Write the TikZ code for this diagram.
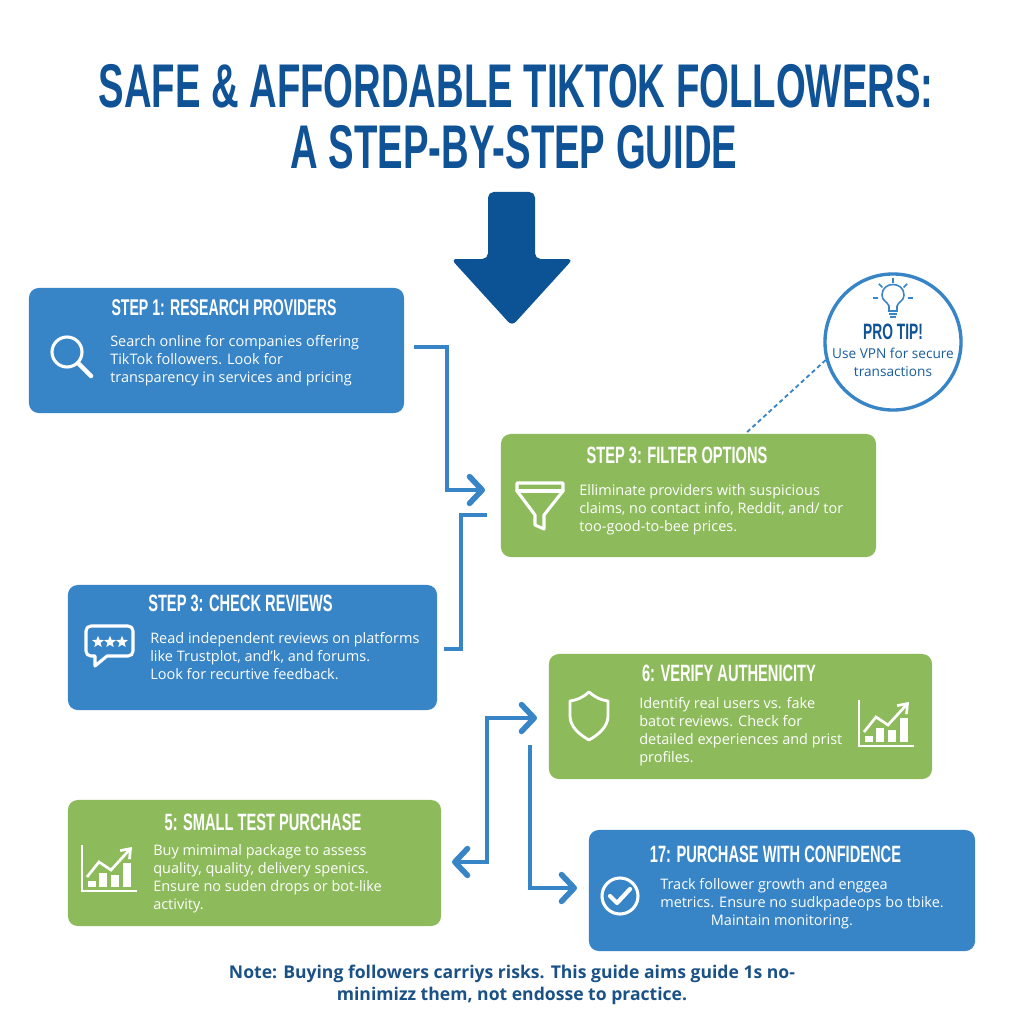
\documentclass[tikz,border=0pt]{standalone}
\usepackage{fontspec}
\setmainfont{Open Sans}
\newfontfamily\headfont[FakeStretch=0.62]{Liberation Sans}
\usetikzlibrary{arrows.meta,shapes.geometric}
\definecolor{stepblue}{HTML}{3784C7}
\definecolor{stepgreen}{HTML}{8DBB5C}
\definecolor{titleblue}{HTML}{105296}
\definecolor{arrowblue}{HTML}{0B5394}
\definecolor{noteblue}{HTML}{1A5288}
\tikzset{
	bluebox/.style={fill=stepblue, rounded corners=7pt, inner sep=0pt},
	greenbox/.style={fill=stepgreen, rounded corners=7pt, inner sep=0pt},
	heading/.style={text=white, font=\headfont\bfseries\fontsize{16.8}{18}\selectfont, inner sep=0pt},
	body/.style={text=white, anchor=west, align=left, inner sep=0pt, font=\fontsize{10.3}{12.8}\selectfont},
	titletext/.style={text=titleblue, font=\headfont\bfseries\fontsize{43.9}{48}\selectfont, inner sep=0pt},
	notetext/.style={text=noteblue, font=\bfseries\fontsize{12.5}{16}\selectfont, inner sep=0pt, align=center},
	link/.style={draw=stepblue, line width=2.4pt, line join=miter},
	tip/.tip={Straight Barb[length=9pt, width=19pt, line width=4pt, round]},
	icon/.style={draw=white, line width=2.2pt, line join=round, line cap=round}
}
\def\charticon(#1,#2){
	\draw[draw=white, line width=1.7pt] (#1, #2-46) -- (#1, #2) -- (#1+55, #2);
	\fill[white] (#1+6, #2-10) rectangle (#1+14, #2-4);
	\fill[white] (#1+17, #2-18) rectangle (#1+25, #2-4);
	\fill[white] (#1+29, #2-16) rectangle (#1+37, #2-4);
	\fill[white] (#1+41, #2-28) rectangle (#1+49, #2-4);
	\draw[draw=white, line width=1.9pt, -{Straight Barb[length=6pt, width=9pt, line width=1.9pt]}] (#1+5, #2-14) -- (#1+17, #2-29) -- (#1+29, #2-21) -- (#1+50, #2-44);
}
\begin{document}
\begin{tikzpicture}[x=0.025cm, y=-0.025cm]
		%%%%% START %%%%%
		\useasboundingbox (0, 0) rectangle (1024, 1024);
		\fill[white] (0, 0) rectangle (1024, 1024);
		
		\node[titletext] (title1) at (516, 86) {SAFE \& AFFORDABLE TIKTOK FOLLOWERS:};
		\node[titletext] (title2) at (514, 147) {A STEP-BY-STEP GUIDE};
		
		\fill[arrowblue, rounded corners=4pt]
			(488, 192) -- (535, 192) -- (535, 259) -- (573, 259) -- (512, 326) -- (451, 259) -- (488, 259) -- cycle;
		
		\node[bluebox, minimum width=9.375cm, minimum height=3.125cm] (research) at (216.5, 350.5) {};
		\node[bluebox, minimum width=9.225cm, minimum height=3.125cm] (reviews) at (252.5, 647.5) {};
		\node[greenbox, minimum width=9.375cm, minimum height=3.075cm] (filter) at (688.5, 495.5) {};
		\node[greenbox, minimum width=9.575cm, minimum height=3.125cm] (verify) at (740.5, 716.5) {};
		\node[greenbox, minimum width=9.325cm, minimum height=3.15cm] (test) at (254.5, 863) {};
		\node[bluebox, minimum width=9.65cm, minimum height=3.025cm] (confidence) at (782, 890.5) {};
		
		\node[heading, font=\headfont\bfseries\fontsize{16.2}{18}\selectfont] (researchhead) at (224, 308) {STEP 1: RESEARCH PROVIDERS};
		\node[heading] (reviewshead) at (240.5, 603) {STEP 3: CHECK REVIEWS};
		\node[heading] (filterhead) at (677, 455) {STEP 3: FILTER OPTIONS};
		\node[heading] (verifyhead) at (729, 673) {6: VERIFY AUTHENICITY};
		\node[heading] (testhead) at (263, 822) {5: SMALL TEST PURCHASE};
		\node[heading] (confidencehead) at (775.5, 854) {17: PURCHASE WITH CONFIDENCE};
		
		\node[body] (researchtext) at (110, 361) {Search online for companies offering\\TikTok followers. Look for\\transparency in services and pricing};
		\node[body] (reviewstext) at (150, 656.5) {Read independent reviews on platforms\\like Trustplot, and'k, and forums.\\Look for recurtive feedback.};
		\node[body] (filtertext) at (579, 510) {Elliminate providers with suspicious\\claims, no contact info, Reddit, and/ tor\\too-good-to-bee prices.};
		\node[body] (verifytext) at (639, 731.5) {Identify real users vs. fake\\batot reviews. Check for\\detailed experiences and prist\\profiles.};
		\node[body] (testtext) at (153, 879) {Buy mimimal package to assess\\quality, quality, delivery spenics.\\Ensure no suden drops or bot-like\\activity.};
		\node[body] (confidencetext) at (660, 904) {Track follower growth and enggea\\metrics. Ensure no sudkpadeops bo tbike.\\\hspace*{36pt}Maintain monitoring.};
		
		%%%%% connectors %%%%%
		\coordinate (researchout) at (414, 347);
		\coordinate (filterin) at (485, 490);
		\coordinate (filterout) at (487, 515);
		\coordinate (reviewsout) at (444, 649);
		\coordinate (verifyin) at (537, 718);
		\coordinate (testin) at (452, 862);
		\coordinate (verifyout) at (530, 745);
		\coordinate (confidencein) at (577, 888);
		
		\draw[link, -{tip}] (researchout) -| (447, 490) -- (filterin);
		\draw[link] (filterout) -| (461, 649) -- (reviewsout);
		\draw[link, {tip}-{tip}] (testin) -| (487, 718) -- (verifyin);
		\draw[link, -{tip}] (verifyout) |- (confidencein);
		
		%%%%% pro tip %%%%%
		\node[circle, draw=stepblue, line width=2.4pt, fill=white, minimum size=3.4cm, inner sep=0pt] (tip) at (893, 342) {};
		\node[text=titleblue, font=\headfont\bfseries\fontsize{15.8}{16}\selectfont, inner sep=0pt] (tiphead) at (893, 332) {PRO TIP!};
		\node[text=titleblue!80!stepblue, font=\fontsize{9.7}{12.8}\selectfont, align=center, inner sep=0pt] (tiptext) at (893, 362) {Use VPN for secure\\transactions};
		\draw[draw=stepblue, line width=1.3pt, dash pattern=on 3pt off 2.2pt] (tip.195) -- (745, 434);
		
		\draw[draw=stepblue, line width=1.1pt] (889, 311) -- (889, 306) .. controls (887, 301) and (882, 301) .. (882, 295)
			.. controls (882, 281) and (904, 281) .. (904, 295) .. controls (904, 301) and (899, 301) .. (897, 306) -- (897, 311) -- cycle;
		\draw[draw=stepblue, line width=1.1pt] (889, 314) -- (897, 314);
		\draw[draw=stepblue, line width=1.1pt] (890, 317) -- (896, 317);
		\foreach \a in {0, 45, 90, 135, 180} {
			\draw[draw=stepblue, line width=1.1pt] ({893+15*cos(\a)}, {298-15*sin(\a)}) -- ({893+20*cos(\a)}, {298-20*sin(\a)});
		}
		
		%%%%% icons %%%%%
		\draw[icon] (67, 352) circle (15);
		\draw[icon, line width=3.2pt] (79, 364) -- (91, 376);
		
		\draw[icon] (91, 626) -- (128, 626) .. controls (131, 626) and (133, 628) .. (133, 631) -- (133, 651)
			.. controls (133, 654) and (131, 656) .. (128, 656) -- (107, 656) -- (95, 666) -- (95, 656) -- (91, 656)
			.. controls (88, 656) and (86, 654) .. (86, 651) -- (86, 631) .. controls (86, 628) and (88, 626) .. (91, 626) -- cycle;
		\foreach \i in {1, 2, 3} {
			\node[star, star points=5, star point ratio=2.4, fill=white, minimum size=9pt, inner sep=0pt] (star\i) at (86+12*\i, 642) {};
		}
		
		\draw[icon, line cap=butt] (517, 483) -- (563, 483) -- (563, 491) -- (544, 515) -- (544, 529) -- (535, 525) -- (535, 515) -- (517, 491) -- cycle;
		\draw[icon] (517, 491) -- (563, 491);
		
		\draw[icon, line width=2pt] (589, 692) .. controls (582, 698) and (577, 700) .. (570, 701) -- (570, 716)
			.. controls (570, 727) and (580, 735) .. (589, 740) .. controls (598, 735) and (608, 727) .. (608, 716)
			-- (608, 701) .. controls (601, 700) and (596, 698) .. (589, 692) -- cycle;
		
		\charticon(859, 746)
		\charticon(82, 891)
		
		\draw[icon] (620, 896) circle (18);
		\draw[icon, line width=3pt] (610, 896) -- (617, 903) -- (630, 889);
		
		\node[notetext] (note) at (512, 985) {Note: Buying followers carriys risks. This guide aims guide 1s no-\\minimizz them, not endosse to practice.};
		
		%%%%% END %%%%%
	\end{tikzpicture}
\end{document}
